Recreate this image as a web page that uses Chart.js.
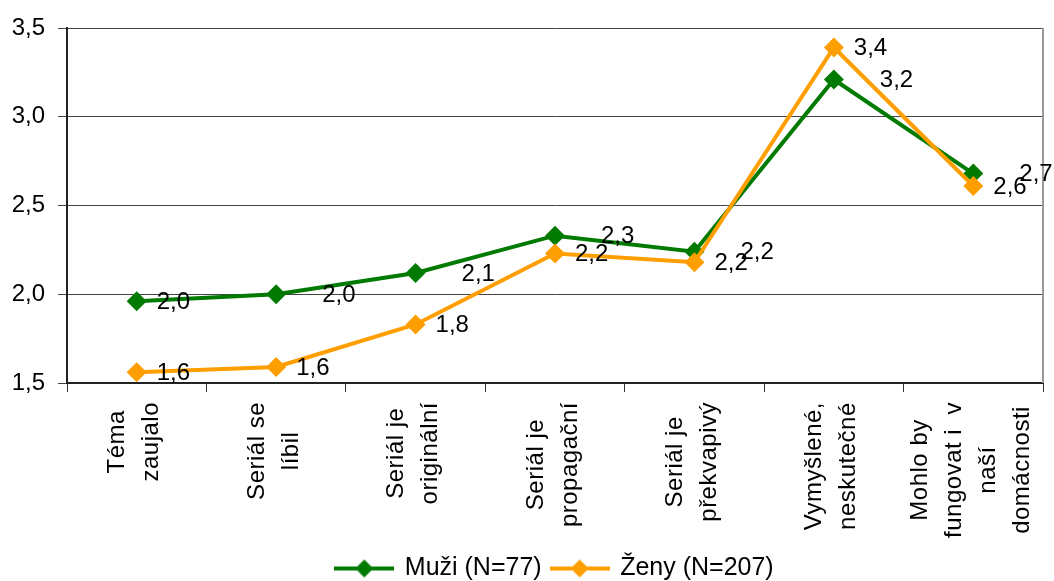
<!DOCTYPE html>
<html>
<head>
<meta charset="utf-8">
<script src="https://cdn.jsdelivr.net/npm/chart.js@4/dist/chart.umd.min.js"></script>
<style>
  html, body { margin: 0; padding: 0; background: #fff; }
  #wrap { width: 1054px; height: 581px; }
</style>
</head>
<body>
<div id="wrap"><canvas id="lienzo" width="1054" height="581"></canvas></div>
<script>
"use strict";

// kategorie a hodnoty
const kategorie = [
  ["Téma", "zaujalo"],
  ["Seriál se", "líbil"],
  ["Seriál je", "originální"],
  ["Seriál je", "propagační"],
  ["Seriál je", "překvapivý"],
  ["Vymyšlené,", "neskutečné"],
  ["Mohlo by", "fungovat i  v", "naší", "domácnosti"],
];
const muzi = [1.96, 2.0, 2.12, 2.33, 2.24, 3.21, 2.68];
const zeny = [1.56, 1.59, 1.83, 2.23, 2.18, 3.39, 2.61];
const yTicks = [1.5, 2.0, 2.5, 3.0, 3.5];

const ZELENA = "#007a00";
const ORANZOVA = "#ff9e00";
const FONT = "'Liberation Sans', Arial, sans-serif";
const fmt = (v) => v.toFixed(1).replace(".", ",");

// ikonka do legendy: cara s kosoctvercem
function legendIcon(color) {
  const c = document.createElement("canvas");
  c.width = 60;
  c.height = 20;
  const g = c.getContext("2d");
  g.strokeStyle = color;
  g.lineWidth = 4;
  g.beginPath();
  g.moveTo(0, 10);
  g.lineTo(60, 10);
  g.stroke();
  g.fillStyle = color;
  g.beginPath();
  g.moveTo(30, 1);
  g.lineTo(39, 10);
  g.lineTo(30, 19);
  g.lineTo(21, 10);
  g.closePath();
  g.fill();
  return c;
}

// popisky hodnot vedle bodu
const popisky = {
  id: "popisky",
  afterDatasetsDraw(chart) {
    const ctx = chart.ctx;
    ctx.save();
    ctx.font = "24px " + FONT;
    ctx.fillStyle = "#000";
    ctx.textAlign = "left";
    ctx.textBaseline = "middle";
    chart.data.datasets.forEach((ds, i) => {
      const meta = chart.getDatasetMeta(i);
      meta.data.forEach((pt, j) => {
        const dx = (ds.labelShift && ds.labelShift[j] != null) ? ds.labelShift[j] : ds.labelOffset;
        ctx.fillText(fmt(ds.data[j]), pt.x + dx, pt.y + 1);
      });
    });
    ctx.restore();
  },
};

// svisle popisky kategorii, radky zarovnane na stred bloku
const osaX = {
  id: "osaX",
  afterDraw(chart) {
    const ctx = chart.ctx;
    const sx = chart.scales.x;
    const top = chart.chartArea.bottom + 19;
    const radek = 34;
    ctx.save();
    ctx.font = "24px " + FONT;
    ctx.letterSpacing = "0.5px";
    ctx.fillStyle = "#000";
    ctx.textAlign = "center";
    ctx.textBaseline = "middle";
    kategorie.forEach((lines, i) => {
      const x = sx.getPixelForTick(i) - 2;
      const maxW = Math.max(...lines.map((l) => ctx.measureText(l).width));
      ctx.save();
      ctx.translate(x, top);
      ctx.rotate(-Math.PI / 2);
      lines.forEach((l, k) => {
        ctx.fillText(l, -maxW / 2, (k - (lines.length - 1) / 2) * radek);
      });
      ctx.restore();
    });
    ctx.restore();
  },
};

// pravy okraj grafu
const ramecek = {
  id: "ramecek",
  beforeDatasetsDraw(chart) {
    const { ctx, chartArea: a } = chart;
    ctx.save();
    ctx.strokeStyle = "#999";
    ctx.lineWidth = 2;
    ctx.beginPath();
    ctx.moveTo(a.right, a.top);
    ctx.lineTo(a.right, a.bottom);
    ctx.stroke();
    ctx.restore();
  },
};

const lienzo = document.getElementById("lienzo").getContext("2d");

const grafico = new Chart(lienzo, {
  type: "line",
  data: {
    labels: kategorie,
    datasets: [
      {
        label: "Muži (N=77)",
        data: muzi,
        borderColor: ZELENA,
        backgroundColor: ZELENA,
        borderWidth: 4,
        pointStyle: "rectRot",
        pointRadius: 10,
        pointHoverRadius: 10,
        pointBorderWidth: 0,
        tension: 0,
        order: 2,
        labelOffset: 46,
        labelShift: [20],
        icon: legendIcon(ZELENA),
      },
      {
        label: "Ženy (N=207)",
        data: zeny,
        borderColor: ORANZOVA,
        backgroundColor: ORANZOVA,
        borderWidth: 4,
        pointStyle: "rectRot",
        pointRadius: 10,
        pointHoverRadius: 10,
        pointBorderWidth: 0,
        tension: 0,
        order: 1,
        labelOffset: 20,
        icon: legendIcon(ORANZOVA),
      },
    ],
  },
  options: {
    responsive: false,
    animation: false,
    layout: { padding: { top: 28, right: 11, left: 0, bottom: -10 } },
    plugins: {
      tooltip: { enabled: false },
      legend: {
        position: "bottom",
        fullSize: false,
        labels: {
          color: "#000",
          font: { family: FONT, size: 25 },
          usePointStyle: true,
          pointStyleWidth: 56,
          padding: 10,
          generateLabels(chart) {
            return chart.data.datasets.map((ds, i) => ({
              text: ds.label,
              pointStyle: ds.icon,
              fillStyle: ds.borderColor,
              strokeStyle: ds.borderColor,
              lineWidth: 0,
              datasetIndex: i,
              hidden: false,
            }));
          },
        },
      },
    },
    scales: {
      x: {
        offset: true,
        grid: {
          offset: true,
          drawOnChartArea: false,
          drawTicks: true,
          tickLength: 9,
          color: "#333",
        },
        border: { color: "#222", width: 2 },
        ticks: { display: false },
        afterFit(s) {
          s.height = 163;
          s.paddingLeft = 0;
          s.paddingRight = 0;
        },
      },
      y: {
        min: 1.5,
        max: 3.5,
        afterBuildTicks(s) { s.ticks = yTicks.map((v) => ({ value: v })); },
        grid: { color: "#444", tickLength: 9, lineWidth: 1 },
        border: { color: "#222", width: 2 },
        ticks: {
          color: "#000",
          padding: 13,
          font: { family: FONT, size: 24 },
          callback: (v) => fmt(v),
        },
        afterFit(s) { s.width = 67; },
      },
    },
  },
  plugins: [popisky, osaX, ramecek],
});
</script>
</body>
</html>
